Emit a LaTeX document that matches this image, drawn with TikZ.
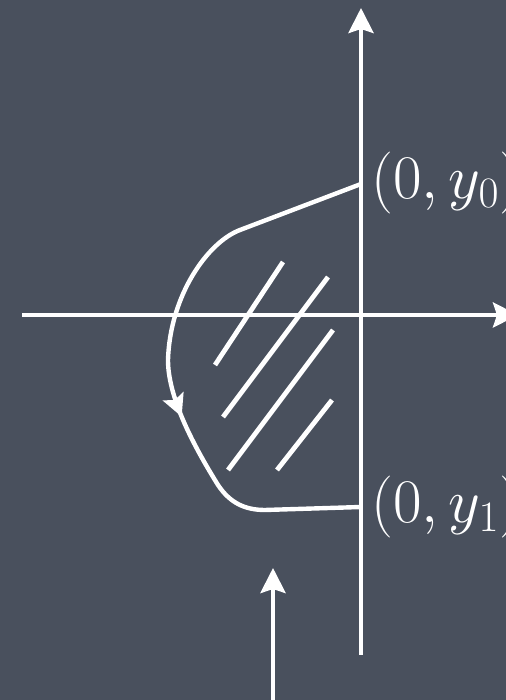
\RequirePackage{fix-cm}
\documentclass[tikz,border=0pt]{standalone}
\usepackage{amsmath}
\usetikzlibrary{arrows.meta, decorations.markings}
\definecolor{board}{RGB}{73,80,93}

\begin{document}
\begin{tikzpicture}[x=0.5pt, y=0.5pt,
    chalk/.style={white, line width=2.2pt},
    tip/.style={-{Stealth[length=12.5pt, width=12.5pt, inset=2pt]}},
    hatch/.style={white, line width=2.4pt},
    lbl/.style={white, anchor=west, inner sep=0pt, font=\fontsize{31}{37}\selectfont}]
  \fill[board] (0,0) rectangle (506,700);
  \useasboundingbox (0,0) rectangle (506,700);
  % axes
  \draw[chalk, tip] (22,385) -- (518,385);
  \draw[chalk, tip] (361,45) -- (361,692);
  \coordinate (top) at (361,516);
  \coordinate (bot) at (361,193);
  \node[lbl] (y0) at (371,517) {$(0,y_0)$};
  \node[lbl] (y1) at (371,193) {$(0,y_1)$};
  % the closed curve
  \draw[chalk, decoration={markings, mark=at position 0.6 with {\arrow{Stealth[length=11pt, width=11pt, inset=2pt]}}}, postaction={decorate}]
    (top) -- (240,470) .. controls (208,458) and (170,405) .. (168,340)
    .. controls (168,305) and (190,260) .. (218,215)
    .. controls (230,197) and (245,190) .. (265,190) -- (bot);
  % hatching
  \draw[hatch] (215,335) -- (283,438);
  \draw[hatch] (223,283) -- (328,423);
  \draw[hatch] (228,230) -- (333,370);
  \draw[hatch] (277,230) -- (332,300);
  % arrow from below
  \coordinate (src) at (273,-5);
  \coordinate (dst) at (273,132);
  \draw[chalk, tip] (src) -- (dst);
\end{tikzpicture}
\end{document}
